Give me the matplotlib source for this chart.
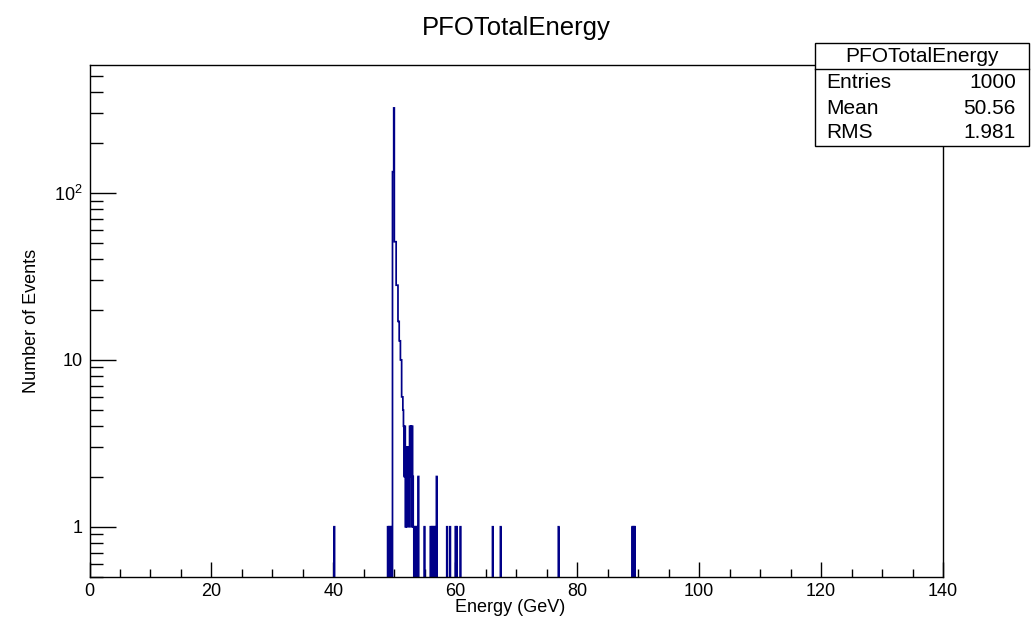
import matplotlib
matplotlib.use("Agg")
import matplotlib.pyplot as plt
import numpy as np
from matplotlib.patches import Rectangle
from matplotlib.lines import Line2D
from matplotlib.ticker import FixedLocator, MultipleLocator, FixedFormatter, NullFormatter

plt.rcParams['font.family'] = ['Liberation Sans', 'DejaVu Sans']
plt.rcParams['mathtext.fontset'] = 'custom'
plt.rcParams['mathtext.rm'] = 'Liberation Sans'
plt.rcParams['mathtext.it'] = 'Liberation Sans'

# ---------------- data ----------------
title = "PFOTotalEnergy"
x_label = "Energy (GeV)"
y_label = "Number of Events"
bin_width = 0.1
x_range = (0, 140)
y_range = (0.5, 584)

# lower edges of the non-empty bins (GeV) and their counts
bin_low = [40.1,
           48.9, 49.1, 49.3, 49.5,
           49.7, 49.8, 49.9, 50.0, 50.1, 50.2, 50.3, 50.4, 50.5, 50.6, 50.7,
           50.8, 50.9, 51.0, 51.1, 51.2, 51.3, 51.4, 51.5, 51.6, 51.7, 51.8,
           51.9, 52.0, 52.1, 52.2, 52.3, 52.4, 52.5, 52.6, 52.7, 52.8, 52.9,
           53.0, 53.1, 53.3, 53.5, 53.7, 53.9,
           54.9,
           55.9, 56.1, 56.3, 56.5, 56.7, 56.9,
           58.6, 59.1, 60.0, 60.2, 60.8,
           66.1, 67.4, 76.9,
           89.0, 89.2, 89.4]
counts = [1,
          1, 1, 1, 1,
          134, 134, 323, 51, 51, 51, 28, 28, 28, 17, 17,
          13, 13, 10, 10, 6, 6, 5, 4, 2, 4, 1,
          3, 1, 3, 2, 3, 1, 4, 2, 4, 1, 4,
          2, 1, 1, 1, 1, 2,
          1,
          1, 1, 1, 1, 1, 2,
          1, 1, 1, 1, 1,
          1, 1, 1,
          1, 1, 1]

x_ticks = [0, 20, 40, 60, 80, 100, 120, 140]
x_tick_labels = ["0", "20", "40", "60", "80", "100", "120", "140"]
y_ticks = [1, 10, 100]
y_tick_labels = ["1", "10", r"$\mathregular{10^{2}}$"]
y_minor_ticks = [0.5, 0.6, 0.7, 0.8, 0.9, 2, 3, 4, 5, 6, 7, 8, 9,
                 20, 30, 40, 50, 60, 70, 80, 90, 200, 300, 400, 500]

stats_title = "PFOTotalEnergy"
stats_labels = ["Entries", "Mean", "RMS"]
stats_values = ["1000", "50.56", "1.981"]

# ---------------- figure ----------------
W, H = 1031, 623
fig = plt.figure(figsize=(W / 100, H / 100), dpi=100)
fig.patch.set_facecolor('white')

L, R, T, B = 89.5, 943, 65, 577
ax = fig.add_axes([L / W, 1 - B / H, (R - L) / W, (B - T) / H])

edges = np.arange(x_range[0], x_range[1] + bin_width / 2, bin_width)
centers = np.array(bin_low) + bin_width / 2
ax.hist(centers, bins=edges, weights=counts, histtype='step',
        color='#000088', linewidth=1.25, log=True)

ax.set_xlim(*x_range)
ax.set_yscale('log')
ax.set_ylim(*y_range)

ax.xaxis.set_major_locator(FixedLocator(x_ticks))
ax.xaxis.set_major_formatter(FixedFormatter(x_tick_labels))
ax.xaxis.set_minor_locator(MultipleLocator(5))
ax.yaxis.set_major_locator(FixedLocator(y_ticks))
ax.yaxis.set_major_formatter(FixedFormatter(y_tick_labels))
ax.yaxis.set_minor_locator(FixedLocator(y_minor_ticks))
ax.yaxis.set_minor_formatter(NullFormatter())

ax.tick_params(axis='x', which='major', direction='in', length=11, width=1.0,
               labelsize=13, pad=4, top=False)
ax.tick_params(axis='x', which='minor', direction='in', length=5.5, width=1.0, top=False)
ax.tick_params(axis='y', which='major', direction='in', length=18.5, width=1.0,
               labelsize=13, pad=5, right=False)
ax.tick_params(axis='y', which='minor', direction='in', length=9.2, width=1.0, right=False)
for s in ax.spines.values():
    s.set_linewidth(1.0)
    s.set_color('black')

# titles
fig.text(516 / W, 1 - 28 / H, title, ha='center', va='center', fontsize=18.5)
fig.text(510 / W, 1 - 607 / H, x_label, ha='center', va='center', fontsize=13)
fig.text(31 / W, 1 - 321 / H, y_label, ha='center', va='center', fontsize=13,
         rotation=90)

# stats box
bx0, bx1, by0, by1, bsep = 815, 1029, 43, 146, 69
fig.add_artist(Rectangle((bx0 / W, 1 - by1 / H), (bx1 - bx0) / W, (by1 - by0) / H,
                         transform=fig.transFigure, facecolor='white',
                         edgecolor='black', linewidth=1.0, zorder=5))
fig.add_artist(Line2D([bx0 / W, bx1 / W], [1 - bsep / H, 1 - bsep / H],
                      transform=fig.transFigure, color='black', linewidth=1.0, zorder=6))
fig.text((bx0 + bx1) / 2 / W, 1 - 57 / H, stats_title, ha='center', va='center',
         fontsize=15, zorder=7)
row_y = [82, 108, 133]
for lab, val, yy in zip(stats_labels, stats_values, row_y):
    fig.text(826 / W, 1 - yy / H, lab, ha='left', va='center', fontsize=15, zorder=7)
    fig.text(1016 / W, 1 - yy / H, val, ha='right', va='center', fontsize=15, zorder=7)

fig.savefig("out.png", dpi=100)
